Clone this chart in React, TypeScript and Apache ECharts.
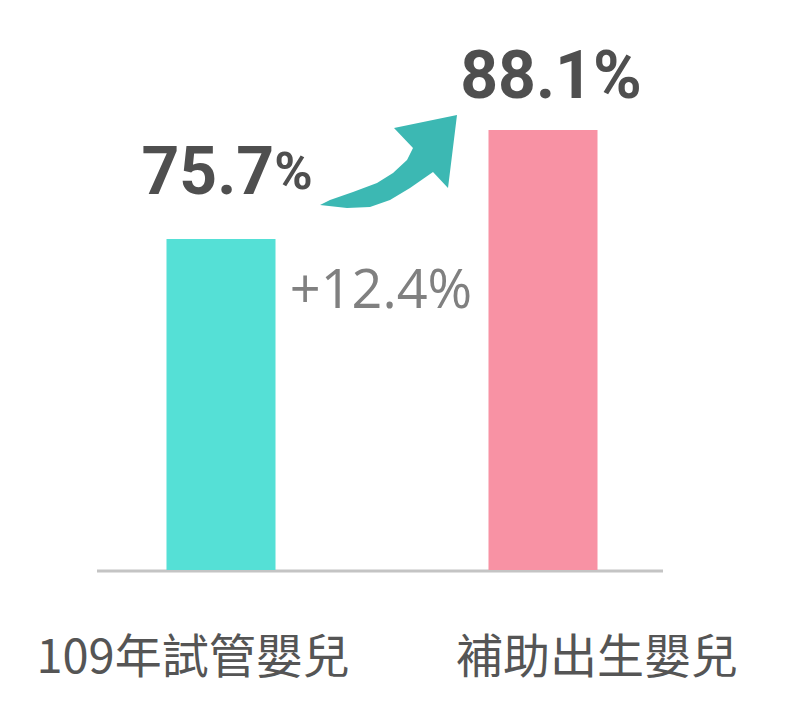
import React, { useEffect, useRef } from "react";
import * as echarts from "echarts";

const categories = ["109年試管嬰兒", "補助出生嬰兒"];
const values = [75.7, 88.1];
const barColors = ["#55e0d6", "#f892a4"];
const diffLabel = "+12.4%";

export default function App() {
  const ref = useRef<HTMLDivElement>(null);
  useEffect(() => {
    if (!ref.current) return;
    const chart = echarts.init(ref.current, null, { renderer: "svg" });
    const labelFont = "'Roboto', sans-serif";
    chart.setOption({
      animation: false,
      backgroundColor: "#ffffff",
      grid: { left: 60, right: 96, top: 25.5, bottom: 139 },
      xAxis: {
        type: "category",
        data: categories,
        axisLine: { show: false },
        axisTick: { show: false },
        axisLabel: { show: false },
      },
      yAxis: {
        type: "value",
        min: 38,
        max: 100,
        show: false,
        splitLine: { show: false },
      },
      series: [
        {
          type: "bar",
          barWidth: 109,
          data: values.map((v, i) => ({
            value: v,
            itemStyle: { color: barColors[i] },
            label: {
              show: true,
              position: "top",
              distance: i === 0 ? 34 : 22,
              offset: i === 0 ? [6, 0] : [8, 0],
              formatter: `{n|${v.toFixed(1)}}{${i === 0 ? "ps" : "p"}|%}`,
              rich: {
                n: { fontFamily: labelFont, fontWeight: "bold", fontSize: 66, color: "#4f4f4f" },
                p: { fontFamily: labelFont, fontWeight: "bold", fontSize: 66, color: "#4f4f4f" },
                ps: { fontFamily: labelFont, fontWeight: "bold", fontSize: 52, color: "#4f4f4f" },
              },
            },
          })),
        },
      ],
      graphic: [
        {
          type: "line",
          shape: { x1: 97, y1: 571, x2: 663, y2: 571 },
          style: { stroke: "#c4c4c4", lineWidth: 3 },
        },
        {
          type: "polygon",
          shape: {
            points: [
              [320, 205],
              [347, 208],
              [370, 207],
              [390, 200],
              [410, 188],
              [433, 172],
              [448, 188],
              [457, 115],
              [394, 128],
              [413, 148],
              [407, 160],
              [393, 173],
              [377, 183],
              [353, 192],
              [330, 200],
            ],
          },
          style: { fill: "#3cb8b3" },
        },
        {
          type: "text",
          x: 381,
          y: 287,
          style: {
            text: diffLabel,
            fontFamily: "'Open Sans', sans-serif",
            fontSize: 54,
            fill: "#808080",
            textAlign: "center",
            textVerticalAlign: "middle",
          },
        },
        {
          type: "text",
          x: 193,
          y: 652,
          style: {
            text: categories[0],
            fontFamily: "'Noto Sans CJK TC', sans-serif",
            fontSize: 47,
            fill: "#555555",
            textAlign: "center",
            textVerticalAlign: "middle",
          },
        },
        {
          type: "text",
          x: 597,
          y: 652,
          style: {
            text: categories[1],
            fontFamily: "'Noto Sans CJK TC', sans-serif",
            fontSize: 47,
            fill: "#555555",
            textAlign: "center",
            textVerticalAlign: "middle",
          },
        },
      ],
    });
    return () => chart.dispose();
  }, []);
  return (
    <div
      ref={ref}
      style={{ position: "fixed", left: 0, top: 0, width: 800, height: 709 }}
    />
  );
}
